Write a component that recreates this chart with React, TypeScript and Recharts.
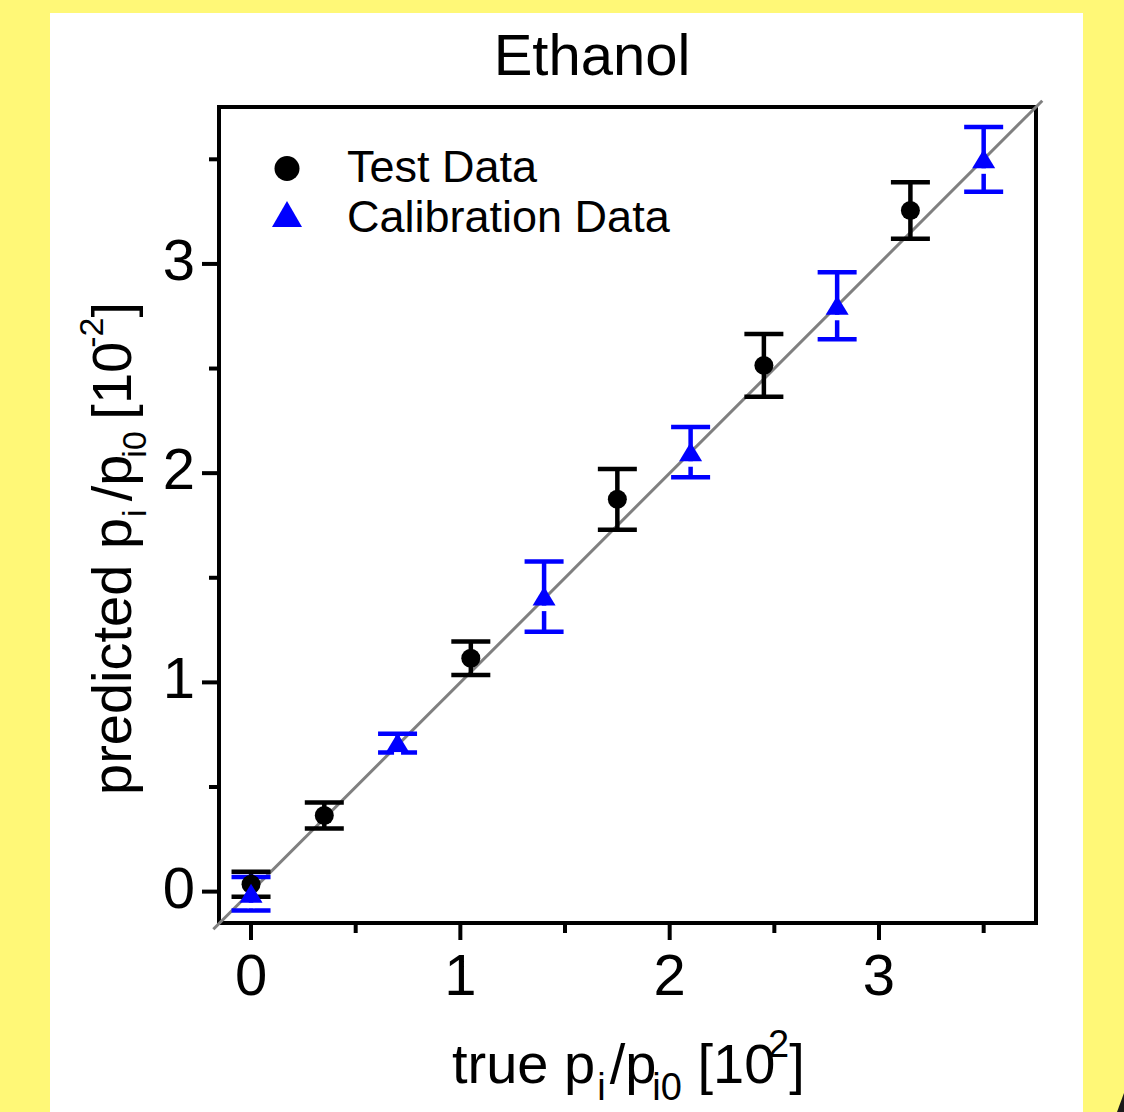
import React from 'react'
import { ScatterChart, Scatter, XAxis, YAxis, ErrorBar, ReferenceLine, ReferenceArea, Legend, Customized } from 'recharts'

// values, in units of 10^-2
const testTrue = [0, 0.35, 1.05, 1.75, 2.45, 3.15]
const testPred = [0.035, 0.364, 1.115, 1.875, 2.515, 3.255]
const testErr = [0.06, 0.062, 0.08, 0.145, 0.15, 0.135]

const calTrue = [0, 0.7, 1.4, 2.1, 2.8, 3.5]
const calPred = [-0.01, 0.71, 1.41, 2.1, 2.8, 3.5]
const calErr = [0.08, 0.045, 0.168, 0.12, 0.16, 0.155]

const axisTicks = [0, 0.5, 1, 1.5, 2, 2.5, 3, 3.5]
const xDomain: [number, number] = [-0.153, 3.75]
const yDomain: [number, number] = [-0.15, 3.75]
const diagonal = [-0.18, 3.78]

const FONT = '"Liberation Sans", Arial, Helvetica, sans-serif'
const BLUE = '#0000ff'

const testData = testTrue.map((x, i) => ({ x, y: testPred[i], err: testErr[i] }))
const calData = calTrue.map((x, i) => ({ x, y: calPred[i], err: calErr[i] }))

const XTick = ({ x, y, payload }: any) => {
  const major = Number.isInteger(payload.value)
  return (
    <g>
      <line x1={x} x2={x} y1={y} y2={y + (major ? 17 : 10)} stroke="#000" strokeWidth={4} />
      {major && (
        <text x={x} y={y + 72} textAnchor="middle" fontSize={58} fontFamily={FONT} fill="#000">
          {payload.value}
        </text>
      )}
    </g>
  )
}

const YTick = ({ x, y, payload }: any) => {
  const major = Number.isInteger(payload.value)
  return (
    <g>
      <line x1={x} x2={x - (major ? 17 : 10)} y1={y} y2={y} stroke="#000" strokeWidth={4} />
      {major && (
        <text x={x - 24} y={y + 16} textAnchor="end" fontSize={58} fontFamily={FONT} fill="#000">
          {payload.value}
        </text>
      )}
    </g>
  )
}

const Dot = ({ cx, cy }: any) => <circle cx={cx} cy={cy} r={9.5} fill="#000" />

// error bar stops short under the triangle, like the original
const Tri = ({ cx, cy }: any) => (
  <g>
    <rect x={cx - 3.5} y={cy + 9} width={7} height={5.5} fill="#fff" />
    <polygon points={`${cx},${cy - 10} ${cx + 11.5},${cy + 9} ${cx - 11.5},${cy + 9}`} fill={BLUE} />
  </g>
)

const LegendBox = () => (
  <svg width={460} height={110} style={{ display: 'block' }}>
    <circle cx={27} cy={28.5} r={12.5} fill="#000" />
    <text x={87} y={42} fontSize={45} fontFamily={FONT} fill="#000">Test Data</text>
    <polygon points="27,61 42,87 12,87" fill={BLUE} />
    <text x={87} y={92} fontSize={45} fontFamily={FONT} fill="#000">Calibration Data</text>
  </svg>
)

const Labels = () => (
  <g fontFamily={FONT} fill="#000">
    <text x={592} y={75} textAnchor="middle" fontSize={58}>Ethanol</text>
    <text x={452} y={1083} fontSize={56}>
      true p
      <tspan fontSize={38} dy={17} dx={2}>i</tspan>
      <tspan dy={-17} dx={4}>/p</tspan>
      <tspan fontSize={38} dy={17} dx={-4}>i0</tspan>
      <tspan dy={-17}> [10</tspan>
      <tspan fontSize={38} dy={-26} dx={-22}>-</tspan>
      <tspan fontSize={38} dx={2}>2</tspan>
      <tspan dy={26}>]</tspan>
    </text>
    <text x={131} y={795} fontSize={56} transform="rotate(-90, 131, 795)">
      predicted p
      <tspan fontSize={34} dy={15} dx={1}>i</tspan>
      <tspan dy={-15} dx={8}>/p</tspan>
      <tspan fontSize={34} dy={15} dx={-3}>i0</tspan>
      <tspan dy={-15} dx={-4}> [10</tspan>
      <tspan fontSize={34} dy={-28} dx={-6}>-2</tspan>
      <tspan dy={28}>]</tspan>
    </text>
  </g>
)

export default function App() {
  return (
    <div style={{ position: 'absolute', left: 0, top: 0, width: 1124, height: 1112, background: '#fff877', overflow: 'hidden' }}>
      <div style={{ position: 'absolute', left: 50, top: 13, width: 1033, height: 1099, background: '#fff' }} />
      <svg style={{ position: 'absolute', left: 0, top: 0 }} width={1124} height={1112}>
        <polygon points="1117,1112 1124,1112 1124,1093" fill="#1a1a1a" />
      </svg>
      <div style={{ position: 'absolute', left: 0, top: 0 }}>
        <ScatterChart width={1124} height={1112} margin={{ top: 107, right: 88, bottom: 89, left: 119 }}>
          <XAxis
            type="number"
            dataKey="x"
            domain={xDomain}
            allowDataOverflow
            ticks={axisTicks}
            interval={0}
            tick={<XTick />}
            tickLine={false}
            tickSize={0}
            tickMargin={0}
            axisLine={false}
            height={100}
          />
          <YAxis
            type="number"
            dataKey="y"
            domain={yDomain}
            allowDataOverflow
            ticks={axisTicks}
            interval={0}
            tick={<YTick />}
            tickLine={false}
            tickSize={0}
            tickMargin={0}
            axisLine={false}
            width={100}
          />
          <ReferenceLine
            segment={[{ x: diagonal[0], y: diagonal[0] }, { x: diagonal[1], y: diagonal[1] }]}
            stroke="#808080"
            strokeWidth={3}
            ifOverflow="visible"
          />
          <ReferenceArea
            x1={xDomain[0]}
            x2={xDomain[1]}
            y1={yDomain[0]}
            y2={yDomain[1]}
            fill="none"
            fillOpacity={0}
            stroke="#000"
            strokeWidth={4}
            ifOverflow="visible"
          />
          <Scatter name="Test Data" data={testData} shape={<Dot />} isAnimationActive={false}>
            <ErrorBar dataKey="err" direction="y" width={19.5} stroke="#000" strokeWidth={4.5} />
          </Scatter>
          <Scatter name="Calibration Data" data={calData} shape={<Tri />} isAnimationActive={false}>
            <ErrorBar dataKey="err" direction="y" width={19.5} stroke={BLUE} strokeWidth={4.5} />
          </Scatter>
          <Legend
            layout="vertical"
            align="center"
            verticalAlign="middle"
            content={<LegendBox />}
            wrapperStyle={{ left: 260, top: 140, width: 460 }}
          />
          <Customized component={<Labels />} />
        </ScatterChart>
      </div>
    </div>
  )
}
